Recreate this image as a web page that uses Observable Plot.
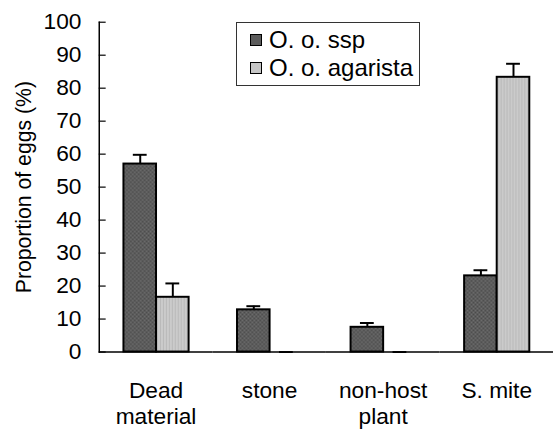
<!DOCTYPE html>
<html><head><meta charset="utf-8">
<script src="https://cdn.jsdelivr.net/npm/d3@7"></script>
<script src="https://cdn.jsdelivr.net/npm/@observablehq/plot@0.6"></script>
<style>
body{margin:0;overflow:hidden;background:#fff;font-family:"Liberation Sans",Arial,sans-serif;}
#wrap{position:relative;width:553px;height:434px;overflow:hidden;}
#legend{position:absolute;left:236px;top:22px;width:184px;height:64px;border:1px solid #333;background:#fff;font-size:24px;box-sizing:border-box;padding-top:3px;}
.row{display:flex;align-items:center;height:28px;white-space:nowrap;}
.sw{width:10px;height:10px;border:1.5px solid #000;margin-left:13px;margin-right:7px;box-sizing:content-box;}
</style></head><body><div id="wrap"><div id="legend"></div></div>
<script>
const categories = ["Dead\nmaterial", "stone", "non-host\nplant", "S. mite"];
const seriesNames = ["O. o. ssp", "O. o. agarista"];
const sspValues = [57.0, 12.8, 7.5, 23.1];
const sspErrors = [2.8, 1.1, 1.3, 1.7];
const agaristaValues = [16.6, 0, 0, 83.3];
const agaristaErrors = [4.2, 0, 0, 4.1];
const yTicks = [0, 10, 20, 30, 40, 50, 60, 70, 80, 90, 100];
const yLabel = "Proportion of eggs (%)";

const data = categories.flatMap((c, i) => [
  {cat: c, series: seriesNames[0], value: sspValues[i], err: sspErrors[i]},
  {cat: c, series: seriesNames[1], value: agaristaValues[i], err: agaristaErrors[i]}
]);
const ssp = data.filter(d => d.series === seriesNames[0]);
const aga = data.filter(d => d.series === seriesNames[1]);

const chart = Plot.plot({
  width: 560, height: 434,
  marginLeft: 100, marginRight: 0, marginTop: 22, marginBottom: 78,
  style: {fontFamily: "Liberation Sans, Arial, sans-serif", fontSize: "23px", color: "#000", background: "#fff", overflow: "visible"},
  fx: {domain: categories, padding: 0, label: null, axis: null},
  x: {domain: seriesNames, paddingInner: 0, paddingOuter: 0.742, axis: null},
  y: {domain: [0, 100], axis: null},
  marks: [
    Plot.barY(ssp, {fx: "cat", x: "series", y: "value", fill: "url(#pDark)", stroke: "#000", strokeWidth: 2}),
    Plot.barY(aga, {fx: "cat", x: "series", y: "value", fill: "url(#pLight)", stroke: "#000", strokeWidth: 2}),
    Plot.ruleX(data, {fx: "cat", x: "series", y1: "value", y2: d => d.value + d.err, stroke: "#000", strokeWidth: 2}),
    Plot.tickY(data, {fx: "cat", x: "series", y: d => d.value + d.err, stroke: "#000", strokeWidth: 2, insetLeft: 9.5, insetRight: 9.5}),
    Plot.ruleY([0], {stroke: "#000", strokeWidth: 1.5}),
    Plot.frame({anchor: "left", facetAnchor: "left", stroke: "#000", strokeWidth: 1.5}),
    Plot.axisFx({anchor: "bottom", tickSize: 0, tickPadding: 27, label: null, lineHeight: 1.17, fontSize: 23}),
    Plot.axisY({ticks: yTicks, tickSize: -7, tickPadding: 25, label: null, fontSize: 23, stroke: "#000", strokeOpacity: 1, strokeWidth: 1.2}),
    Plot.axisY({ticks: [], tickSize: 0, label: yLabel, labelAnchor: "center", labelArrow: "none", labelOffset: 84, fontSize: 21.5})
  ]
});

d3.select(chart).insert("defs", ":first-child").html(
  '<pattern id="pDark" width="4" height="4" patternUnits="userSpaceOnUse">' +
  '<rect width="4" height="4" fill="#5c5c5c"/><rect x="0" y="0" width="1" height="1" fill="#4a4a4a"/>' +
  '<rect x="2" y="2" width="1" height="1" fill="#4a4a4a"/><rect x="2" y="0" width="1" height="1" fill="#6e6e6e"/>' +
  '<rect x="0" y="2" width="1" height="1" fill="#6e6e6e"/></pattern>' +
  '<pattern id="pLight" width="3" height="3" patternUnits="userSpaceOnUse">' +
  '<rect width="3" height="3" fill="#cbcbcb"/><rect x="0" y="0" width="1" height="3" fill="#b9b9b9"/></pattern>'
);

document.getElementById("wrap").prepend(chart);

const legend = document.getElementById("legend");
const swFills = ["#5c5c5c", "#c6c6c6"];
seriesNames.forEach((name, i) => {
  const row = document.createElement("div");
  row.className = "row";
  const sw = document.createElement("div");
  sw.className = "sw";
  sw.style.background = swFills[i];
  const t = document.createElement("span");
  t.textContent = name;
  row.append(sw, t);
  legend.append(row);
});
</script></body></html>
